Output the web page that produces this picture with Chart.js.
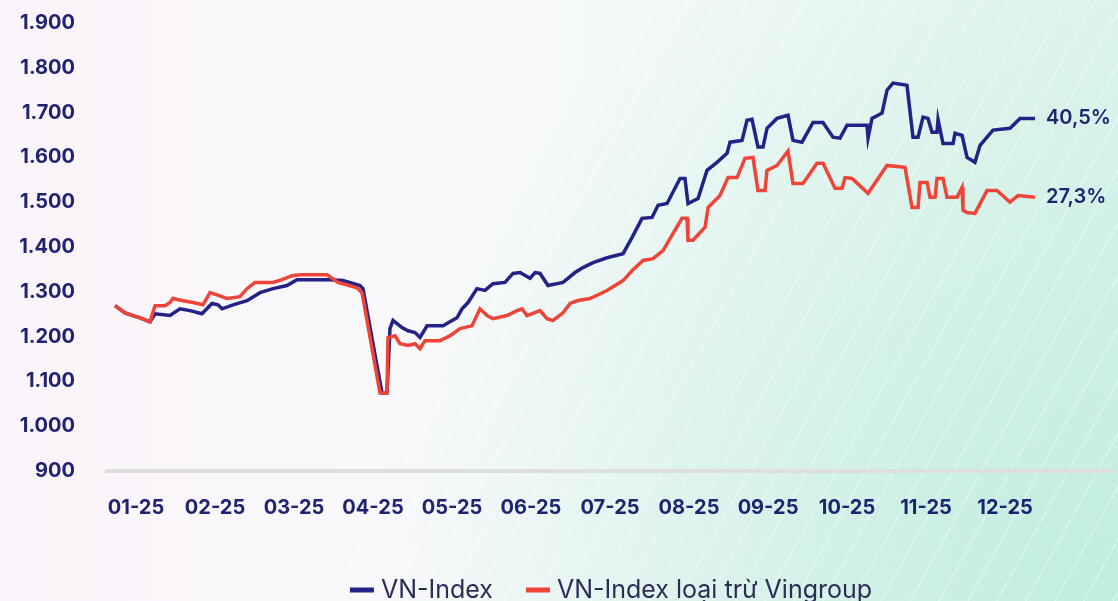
<!DOCTYPE html>
<html>
<head>
<meta charset="utf-8">
<script src="https://cdn.jsdelivr.net/npm/chart.js@4.4.1/dist/chart.umd.min.js"></script>
<style>
  html, body { margin: 0; padding: 0; background: #ffffff; }
  #chart { display: block; }
</style>
</head>
<body>
<canvas id="chart" width="1118" height="601"></canvas>
<script>
// month tick labels and their positions on the x scale (in month units)
var monthLabels = ['01-25', '02-25', '03-25', '04-25', '05-25', '06-25', '07-25', '08-25', '09-25', '10-25', '11-25', '12-25'];
var monthTicks = [1, 2, 3, 4, 5, 6, 7, 8, 9, 10, 11, 12];

// VN-Index
var vnX = [0.734,0.861,0.962,1.051,1.177,1.241,1.430,1.557,1.684,1.835,
    1.962,2.038,2.089,2.228,2.405,2.570,2.734,2.911,3.038,3.241,
    3.456,3.620,3.835,3.873,4.114,4.177,4.215,4.253,4.367,4.443,
    4.532,4.595,4.684,4.886,5.063,5.127,5.203,5.316,5.418,5.519,
    5.671,5.772,5.861,5.987,6.051,6.114,6.215,6.405,6.557,6.658,
    6.785,6.962,7.165,7.278,7.405,7.532,7.608,7.722,7.886,7.949,
    7.987,8.114,8.228,8.354,8.481,8.519,8.671,8.734,8.797,8.873,
    8.937,8.987,9.114,9.253,9.316,9.430,9.570,9.696,9.823,9.911,
    10.000,10.253,10.266,10.316,10.392,10.443,10.506,10.582,10.759,10.835,
    10.899,10.962,11.025,11.076,11.139,11.152,11.215,11.342,11.367,11.456,
    11.519,11.620,11.684,11.848,12.063,12.190,12.380];
var vnIndex = [1269,1253,1247,1242,1233,1251,1247,1262,1258,1251,
    1274,1271,1262,1271,1280,1298,1307,1314,1327,1327,
    1327,1325,1314,1307,1074,1074,1218,1236,1220,1213,
    1209,1198,1224,1224,1242,1262,1276,1307,1303,1318,
    1321,1341,1343,1330,1343,1341,1314,1321,1343,1354,
    1365,1376,1385,1421,1464,1466,1493,1497,1553,1553,
    1497,1508,1571,1589,1609,1634,1638,1683,1685,1623,
    1623,1665,1687,1694,1638,1634,1678,1678,1645,1643,
    1672,1672,1643,1687,1694,1699,1750,1766,1761,1645,
    1645,1690,1687,1656,1656,1685,1631,1631,1654,1649,
    1600,1589,1627,1661,1665,1687,1687];

// VN-Index loai tru Vingroup
var exX = [0.734,0.861,0.962,1.051,1.177,1.241,1.367,1.430,1.468,1.595,
    1.722,1.848,1.937,2.063,2.152,2.316,2.405,2.506,2.734,2.848,
    2.975,3.076,3.241,3.418,3.557,3.620,3.797,3.861,4.089,4.177,
    4.190,4.278,4.342,4.443,4.532,4.595,4.658,4.848,4.975,5.101,
    5.253,5.354,5.443,5.519,5.696,5.823,5.886,5.949,6.114,6.203,
    6.278,6.405,6.494,6.582,6.747,6.962,7.165,7.278,7.418,7.544,
    7.671,7.797,7.911,7.975,7.987,8.051,8.203,8.241,8.392,8.494,
    8.608,8.709,8.810,8.873,8.962,8.987,9.114,9.253,9.316,9.367,
    9.443,9.620,9.696,9.848,9.937,9.975,10.063,10.266,10.506,10.734,
    10.823,10.899,10.924,11.013,11.051,11.114,11.139,11.215,11.266,11.392,
    11.456,11.468,11.519,11.620,11.772,11.899,12.063,12.165,12.380];
var exVin = [1269,1253,1247,1242,1233,1269,1269,1276,1285,1280,
    1276,1271,1298,1291,1285,1289,1307,1321,1321,1327,
    1336,1338,1338,1338,1321,1318,1309,1298,1074,1074,
    1198,1202,1184,1180,1184,1173,1191,1191,1202,1218,
    1224,1262,1247,1240,1247,1258,1262,1247,1258,1240,
    1236,1253,1274,1280,1285,1303,1325,1347,1370,1374,
    1392,1430,1464,1464,1415,1415,1444,1488,1515,1555,
    1555,1598,1600,1526,1526,1571,1582,1614,1542,1542,
    1542,1587,1587,1531,1531,1555,1553,1520,1582,1578,
    1488,1488,1544,1544,1511,1511,1553,1553,1511,1511,
    1533,1482,1477,1475,1526,1526,1500,1515,1511];

var seriesNames = ['VN-Index', 'VN-Index loại trừ Vingroup'];
var endLabels = ['40,5%', '27,3%'];

var navy = '#1f2370';
var blue = '#222287';
var red = '#ef4438';

function toPoints(xs, ys) {
    var pts = [];
    for (var i = 0; i < xs.length; i++) {
        pts.push({x: xs[i], y: ys[i]});
    }
    return pts;
}

function dotThousands(v) {
    return String(v).replace(/\B(?=(\d{3})+(?!\d))/g, '.');
}

// soft pink -> mint background with thin diagonal stripes
var backdrop = {
    id: 'backdrop',
    beforeDraw: function(chart) {
        var ctx = chart.ctx, w = chart.width, h = chart.height;
        ctx.save();
        var g = ctx.createLinearGradient(0, 0, w, 0);
        g.addColorStop(0, '#fbf4fa');
        g.addColorStop(0.45, '#f8f9fb');
        g.addColorStop(1, '#e3f5f0');
        ctx.fillStyle = g;
        ctx.fillRect(0, 0, w, h);
        var r = ctx.createRadialGradient(w, h, 0, w, h, 750);
        r.addColorStop(0, 'rgba(185,236,219,0.85)');
        r.addColorStop(1, 'rgba(185,236,219,0)');
        ctx.fillStyle = r;
        ctx.fillRect(0, 0, w, h);
        ctx.strokeStyle = 'rgba(255,255,255,0.6)';
        ctx.lineWidth = 1;
        for (var x = 330; x < w + 50; x += 29) {
            ctx.beginPath();
            ctx.moveTo(x, h);
            ctx.lineTo(x + h * 0.55, 0);
            ctx.stroke();
        }
        ctx.restore();
    }
};

// percentage labels at the end of each line + legend at the bottom
var annotations = {
    id: 'annotations',
    afterDraw: function(chart) {
        var ctx = chart.ctx;
        ctx.save();
        ctx.font = '600 20px Inter';
        ctx.fillStyle = navy;
        ctx.textAlign = 'left';
        ctx.textBaseline = 'middle';
        chart.data.datasets.forEach(function(ds, i) {
            var meta = chart.getDatasetMeta(i);
            var last = meta.data[meta.data.length - 1];
            ctx.fillText(endLabels[i], last.x + 11, last.y);
        });

        ctx.font = '400 25px Inter';
        var boxW = 24, boxH = 5, gapBox = 7, gapItem = 33;
        var widths = chart.data.datasets.map(function(ds) {
            return boxW + gapBox + ctx.measureText(ds.label).width;
        });
        var total = widths[0] + gapItem + widths[1];
        var area = chart.chartArea;
        var x = (area.left + area.right) / 2 - total / 2;
        var y = 590;
        chart.data.datasets.forEach(function(ds, i) {
            ctx.fillStyle = ds.borderColor;
            ctx.fillRect(x, y - boxH / 2, boxW, boxH);
            ctx.fillStyle = '#2b2d55';
            ctx.fillText(ds.label, x + boxW + gapBox, y);
            x += widths[i] + gapItem;
        });
        ctx.restore();
    }
};

new Chart(document.getElementById('chart'), {
    type: 'line',
    data: {
        datasets: [{
            label: seriesNames[0],
            data: toPoints(vnX, vnIndex),
            borderColor: blue,
            backgroundColor: blue,
            borderWidth: 3.5,
            pointRadius: 0,
            tension: 0,
            order: 1
        }, {
            label: seriesNames[1],
            data: toPoints(exX, exVin),
            borderColor: red,
            backgroundColor: red,
            borderWidth: 3.5,
            pointRadius: 0,
            tension: 0,
            order: 0
        }]
    },
    options: {
        responsive: false,
        animation: false,
        devicePixelRatio: 1,
        layout: { padding: { left: 0, right: 3, top: 23, bottom: 0 } },
        plugins: {
            legend: { display: false },
            tooltip: { enabled: false }
        },
        scales: {
            x: {
                type: 'linear',
                min: 0.633,
                max: 13.392,
                grid: { display: false, drawTicks: false },
                border: { display: true, color: '#dedede', width: 4 },
                afterBuildTicks: function(scale) {
                    scale.ticks = monthTicks.map(function(v) { return {value: v}; });
                },
                afterFit: function(scale) { scale.height = 130; },
                ticks: {
                    autoSkip: false,
                    maxRotation: 0,
                    padding: 25,
                    color: navy,
                    font: { family: 'Inter', size: 20, weight: '700' },
                    callback: function(v) {
                        var i = monthTicks.indexOf(v);
                        return i >= 0 ? monthLabels[i] : '';
                    }
                }
            },
            y: {
                min: 900,
                max: 1900,
                // tick marks hidden; tickLength only offsets the labels
                grid: { display: false, drawTicks: true, tickLength: 32 },
                border: { display: false },
                afterFit: function(scale) { scale.width = 107; },
                ticks: {
                    stepSize: 100,
                    padding: 0,
                    color: navy,
                    font: { family: 'Inter', size: 20, weight: '700' },
                    callback: function(v) { return dotThousands(v); }
                }
            }
        }
    },
    plugins: [backdrop, annotations]
});
</script>
</body>
</html>
